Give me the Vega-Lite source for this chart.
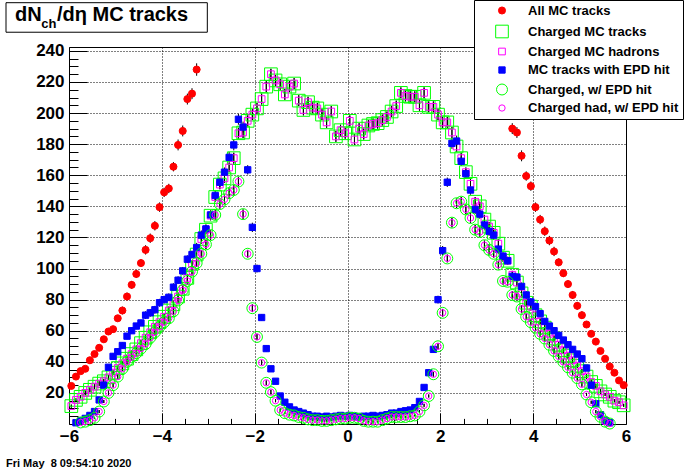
{
"$schema": "https://vega.github.io/schema/vega-lite/v6.json",
"width": 557, "height": 377,
"autosize": {"type": "none"},
"padding": {"left": 69, "top": 47, "right": 70, "bottom": 48},
"background": "white",
"config": {"view": {"stroke": "black", "strokeWidth": 1}, "font": "Liberation Sans",
  "legend": {"title": null, "orient": "none", "legendX": 405, "legendY": -47, "fillColor": "white", "strokeColor": "black", "padding": 4, "labelFont": "Liberation Sans", "labelFontWeight": "bold", "labelFontSize": 13, "labelColor": "black", "labelOffset": 19, "symbolOffset": 17, "rowPadding": 4.5, "labelLimit": 300, "cornerRadius": 0, "symbolStrokeWidth": 1}},
"data": {"values": [
{"s":"a","x":-5.95,"y":24.5,"e":1.5},{"s":"a","x":-5.85,"y":30.5,"e":1.5},{"s":"a","x":-5.75,"y":34,"e":1.5},{"s":"a","x":-5.65,"y":35.5,"e":1.5},{"s":"a","x":-5.55,"y":41,"e":2},{"s":"a","x":-5.45,"y":45,"e":2},{"s":"a","x":-5.35,"y":49,"e":2},{"s":"a","x":-5.25,"y":54.5,"e":2},{"s":"a","x":-5.15,"y":59.5,"e":2},{"s":"a","x":-5.05,"y":61,"e":2},
{"s":"a","x":-4.95,"y":68,"e":2},{"s":"a","x":-4.85,"y":73,"e":2.5},{"s":"a","x":-4.75,"y":82,"e":2.5},{"s":"a","x":-4.65,"y":89.5,"e":2.5},{"s":"a","x":-4.55,"y":96.5,"e":2.5},{"s":"a","x":-4.45,"y":103.5,"e":2.5},{"s":"a","x":-4.35,"y":112,"e":3},{"s":"a","x":-4.25,"y":119.5,"e":3},{"s":"a","x":-4.15,"y":127.5,"e":3},{"s":"a","x":-4.05,"y":139.5,"e":3},
{"s":"a","x":-3.95,"y":149,"e":3},{"s":"a","x":-3.85,"y":151.5,"e":3},{"s":"a","x":-3.75,"y":165.5,"e":3},{"s":"a","x":-3.65,"y":179.5,"e":3.5},{"s":"a","x":-3.55,"y":188.5,"e":3.5},{"s":"a","x":-3.45,"y":209,"e":3.5},{"s":"a","x":-3.35,"y":212.5,"e":3.5},{"s":"a","x":-3.25,"y":228,"e":4},
{"s":"a","x":3.55,"y":190,"e":3.5},{"s":"a","x":3.65,"y":187.5,"e":3.5},{"s":"a","x":3.75,"y":172.5,"e":3.5},{"s":"a","x":3.85,"y":159.5,"e":3},{"s":"a","x":3.95,"y":153,"e":3},{"s":"a","x":4.05,"y":139.5,"e":3},{"s":"a","x":4.15,"y":131.5,"e":3},{"s":"a","x":4.25,"y":124,"e":3},{"s":"a","x":4.35,"y":118,"e":3},{"s":"a","x":4.45,"y":111,"e":3},
{"s":"a","x":4.55,"y":104,"e":2.5},{"s":"a","x":4.65,"y":97,"e":2.5},{"s":"a","x":4.75,"y":90,"e":2.5},{"s":"a","x":4.85,"y":83,"e":2.5},{"s":"a","x":4.95,"y":76,"e":2.5},{"s":"a","x":5.05,"y":70,"e":2.5},{"s":"a","x":5.15,"y":64,"e":2},{"s":"a","x":5.25,"y":58,"e":2},{"s":"a","x":5.35,"y":53,"e":2},{"s":"a","x":5.45,"y":47,"e":2},
{"s":"a","x":5.55,"y":42,"e":2},{"s":"a","x":5.65,"y":37,"e":1.5},{"s":"a","x":5.75,"y":33,"e":1.5},{"s":"a","x":5.85,"y":28,"e":1.5},{"s":"a","x":5.95,"y":25,"e":1.5},

{"s":"b","x":-5.95,"y":11.5,"e":1},{"s":"b","x":-5.85,"y":15.5,"e":1},{"s":"b","x":-5.75,"y":17.5,"e":1},{"s":"b","x":-5.65,"y":20,"e":1.5},{"s":"b","x":-5.55,"y":22,"e":1.5},{"s":"b","x":-5.45,"y":24,"e":1.5},{"s":"b","x":-5.35,"y":26,"e":1.5},{"s":"b","x":-5.25,"y":27.5,"e":1.5},{"s":"b","x":-5.15,"y":30,"e":1.5},{"s":"b","x":-5.05,"y":33,"e":1.5},
{"s":"b","x":-4.95,"y":36,"e":1.5},{"s":"b","x":-4.85,"y":39,"e":1.5},{"s":"b","x":-4.75,"y":42,"e":2},{"s":"b","x":-4.65,"y":45,"e":2},{"s":"b","x":-4.55,"y":48,"e":2},{"s":"b","x":-4.45,"y":52,"e":2},{"s":"b","x":-4.35,"y":55.5,"e":2},{"s":"b","x":-4.25,"y":59,"e":2},{"s":"b","x":-4.15,"y":62.5,"e":2},{"s":"b","x":-4.05,"y":65.5,"e":2},
{"s":"b","x":-3.95,"y":69,"e":2},{"s":"b","x":-3.85,"y":73,"e":2.5},{"s":"b","x":-3.75,"y":77,"e":2.5},{"s":"b","x":-3.65,"y":82,"e":2.5},{"s":"b","x":-3.55,"y":87,"e":2.5},{"s":"b","x":-3.45,"y":94,"e":2.5},{"s":"b","x":-3.35,"y":103,"e":2.5},{"s":"b","x":-3.25,"y":109,"e":2.5},{"s":"b","x":-3.15,"y":119,"e":3},{"s":"b","x":-3.05,"y":125,"e":3},
{"s":"b","x":-2.95,"y":134,"e":3},{"s":"b","x":-2.85,"y":146,"e":3},{"s":"b","x":-2.75,"y":154,"e":3},{"s":"b","x":-2.65,"y":158,"e":3},{"s":"b","x":-2.55,"y":165,"e":3},{"s":"b","x":-2.45,"y":171,"e":3.5},{"s":"b","x":-2.35,"y":187,"e":3.5},{"s":"b","x":-2.25,"y":187.5,"e":3.5},{"s":"b","x":-2.15,"y":195,"e":3.5},{"s":"b","x":-2.05,"y":199,"e":3.5},
{"s":"b","x":-1.95,"y":203,"e":3.5},{"s":"b","x":-1.85,"y":209,"e":3.5},{"s":"b","x":-1.75,"y":217,"e":3.5},{"s":"b","x":-1.65,"y":225,"e":3.5},{"s":"b","x":-1.55,"y":221,"e":3.5},{"s":"b","x":-1.45,"y":218.5,"e":3.5},{"s":"b","x":-1.35,"y":212,"e":3.5},{"s":"b","x":-1.25,"y":217,"e":3.5},{"s":"b","x":-1.15,"y":219,"e":3.5},{"s":"b","x":-1.05,"y":208,"e":3.5},
{"s":"b","x":-0.95,"y":202,"e":3.5},{"s":"b","x":-0.85,"y":207,"e":3.5},{"s":"b","x":-0.75,"y":203.5,"e":3.5},{"s":"b","x":-0.65,"y":203,"e":3.5},{"s":"b","x":-0.55,"y":199,"e":3.5},{"s":"b","x":-0.45,"y":194,"e":3.5},{"s":"b","x":-0.35,"y":201,"e":3.5},{"s":"b","x":-0.25,"y":185,"e":3.5},{"s":"b","x":-0.15,"y":189,"e":3.5},{"s":"b","x":-0.05,"y":187,"e":3.5},
{"s":"b","x":0.05,"y":195,"e":3.5},{"s":"b","x":0.15,"y":183,"e":3.5},{"s":"b","x":0.25,"y":190,"e":3.5},{"s":"b","x":0.35,"y":186.5,"e":3.5},{"s":"b","x":0.45,"y":192,"e":3.5},{"s":"b","x":0.55,"y":193,"e":3.5},{"s":"b","x":0.65,"y":193.5,"e":3.5},{"s":"b","x":0.75,"y":195.5,"e":3.5},{"s":"b","x":0.85,"y":197.5,"e":3.5},{"s":"b","x":0.95,"y":201,"e":3.5},
{"s":"b","x":1.05,"y":204.5,"e":3.5},{"s":"b","x":1.15,"y":213,"e":3.5},{"s":"b","x":1.25,"y":211,"e":3.5},{"s":"b","x":1.35,"y":210.5,"e":3.5},{"s":"b","x":1.45,"y":210.5,"e":3.5},{"s":"b","x":1.55,"y":205,"e":3.5},{"s":"b","x":1.65,"y":213,"e":3.5},{"s":"b","x":1.75,"y":204,"e":3.5},{"s":"b","x":1.85,"y":204,"e":3.5},{"s":"b","x":1.95,"y":199,"e":3.5},
{"s":"b","x":2.05,"y":194,"e":3.5},{"s":"b","x":2.15,"y":194,"e":3.5},{"s":"b","x":2.25,"y":187.5,"e":3.5},{"s":"b","x":2.35,"y":178.5,"e":3.5},{"s":"b","x":2.45,"y":171,"e":3.5},{"s":"b","x":2.55,"y":162,"e":3},{"s":"b","x":2.65,"y":154.5,"e":3},{"s":"b","x":2.75,"y":143,"e":3},{"s":"b","x":2.85,"y":140,"e":3},{"s":"b","x":2.95,"y":131.5,"e":3},
{"s":"b","x":3.05,"y":127,"e":3},{"s":"b","x":3.15,"y":123,"e":3},{"s":"b","x":3.25,"y":116,"e":3},{"s":"b","x":3.35,"y":107,"e":2.5},{"s":"b","x":3.45,"y":105,"e":2.5},{"s":"b","x":3.55,"y":96,"e":2.5},{"s":"b","x":3.65,"y":91,"e":2.5},{"s":"b","x":3.75,"y":84,"e":2.5},{"s":"b","x":3.85,"y":78,"e":2.5},{"s":"b","x":3.95,"y":75.5,"e":2.5},
{"s":"b","x":4.05,"y":70,"e":2.5},{"s":"b","x":4.15,"y":66,"e":2},{"s":"b","x":4.25,"y":62,"e":2},{"s":"b","x":4.35,"y":58,"e":2},{"s":"b","x":4.45,"y":55,"e":2},{"s":"b","x":4.55,"y":51,"e":2},{"s":"b","x":4.65,"y":47.5,"e":2},{"s":"b","x":4.75,"y":44,"e":2},{"s":"b","x":4.85,"y":41,"e":2},{"s":"b","x":4.95,"y":37.5,"e":1.5},
{"s":"b","x":5.05,"y":34,"e":1.5},{"s":"b","x":5.15,"y":30.5,"e":1.5},{"s":"b","x":5.25,"y":27,"e":1.5},{"s":"b","x":5.35,"y":24.5,"e":1.5},{"s":"b","x":5.45,"y":21,"e":1.5},{"s":"b","x":5.55,"y":19,"e":1},{"s":"b","x":5.65,"y":17.5,"e":1},{"s":"b","x":5.75,"y":15,"e":1},{"s":"b","x":5.85,"y":14,"e":1},{"s":"b","x":5.95,"y":12,"e":1},

{"s":"c","x":-5.95,"y":11.5,"e":1},{"s":"c","x":-5.85,"y":15.5,"e":1},{"s":"c","x":-5.75,"y":17.5,"e":1},{"s":"c","x":-5.65,"y":20,"e":1.5},{"s":"c","x":-5.55,"y":22,"e":1.5},{"s":"c","x":-5.45,"y":24,"e":1.5},{"s":"c","x":-5.35,"y":26,"e":1.5},{"s":"c","x":-5.25,"y":27.5,"e":1.5},{"s":"c","x":-5.15,"y":30,"e":1.5},{"s":"c","x":-5.05,"y":33,"e":1.5},
{"s":"c","x":-4.95,"y":36,"e":1.5},{"s":"c","x":-4.85,"y":39,"e":1.5},{"s":"c","x":-4.75,"y":42,"e":2},{"s":"c","x":-4.65,"y":45,"e":2},{"s":"c","x":-4.55,"y":48,"e":2},{"s":"c","x":-4.45,"y":52,"e":2},{"s":"c","x":-4.35,"y":55.5,"e":2},{"s":"c","x":-4.25,"y":59,"e":2},{"s":"c","x":-4.15,"y":62.5,"e":2},{"s":"c","x":-4.05,"y":65.5,"e":2},
{"s":"c","x":-3.95,"y":69,"e":2},{"s":"c","x":-3.85,"y":73,"e":2.5},{"s":"c","x":-3.75,"y":77,"e":2.5},{"s":"c","x":-3.65,"y":82,"e":2.5},{"s":"c","x":-3.55,"y":87,"e":2.5},{"s":"c","x":-3.45,"y":94,"e":2.5},{"s":"c","x":-3.35,"y":103,"e":2.5},{"s":"c","x":-3.25,"y":109,"e":2.5},{"s":"c","x":-3.15,"y":119,"e":3},{"s":"c","x":-3.05,"y":125,"e":3},
{"s":"c","x":-2.95,"y":134,"e":3},{"s":"c","x":-2.85,"y":146,"e":3},{"s":"c","x":-2.75,"y":154,"e":3},{"s":"c","x":-2.65,"y":158,"e":3},{"s":"c","x":-2.55,"y":165,"e":3},{"s":"c","x":-2.45,"y":171,"e":3.5},{"s":"c","x":-2.35,"y":187,"e":3.5},{"s":"c","x":-2.25,"y":187.5,"e":3.5},{"s":"c","x":-2.15,"y":195,"e":3.5},{"s":"c","x":-2.05,"y":199,"e":3.5},
{"s":"c","x":-1.95,"y":203,"e":3.5},{"s":"c","x":-1.85,"y":209,"e":3.5},{"s":"c","x":-1.75,"y":217,"e":3.5},{"s":"c","x":-1.65,"y":225,"e":3.5},{"s":"c","x":-1.55,"y":221,"e":3.5},{"s":"c","x":-1.45,"y":218.5,"e":3.5},{"s":"c","x":-1.35,"y":212,"e":3.5},{"s":"c","x":-1.25,"y":217,"e":3.5},{"s":"c","x":-1.15,"y":219,"e":3.5},{"s":"c","x":-1.05,"y":208,"e":3.5},
{"s":"c","x":-0.95,"y":202,"e":3.5},{"s":"c","x":-0.85,"y":207,"e":3.5},{"s":"c","x":-0.75,"y":203.5,"e":3.5},{"s":"c","x":-0.65,"y":203,"e":3.5},{"s":"c","x":-0.55,"y":199,"e":3.5},{"s":"c","x":-0.45,"y":194,"e":3.5},{"s":"c","x":-0.35,"y":201,"e":3.5},{"s":"c","x":-0.25,"y":185,"e":3.5},{"s":"c","x":-0.15,"y":189,"e":3.5},{"s":"c","x":-0.05,"y":187,"e":3.5},
{"s":"c","x":0.05,"y":195,"e":3.5},{"s":"c","x":0.15,"y":183,"e":3.5},{"s":"c","x":0.25,"y":190,"e":3.5},{"s":"c","x":0.35,"y":186.5,"e":3.5},{"s":"c","x":0.45,"y":192,"e":3.5},{"s":"c","x":0.55,"y":193,"e":3.5},{"s":"c","x":0.65,"y":193.5,"e":3.5},{"s":"c","x":0.75,"y":195.5,"e":3.5},{"s":"c","x":0.85,"y":197.5,"e":3.5},{"s":"c","x":0.95,"y":201,"e":3.5},
{"s":"c","x":1.05,"y":204.5,"e":3.5},{"s":"c","x":1.15,"y":213,"e":3.5},{"s":"c","x":1.25,"y":211,"e":3.5},{"s":"c","x":1.35,"y":210.5,"e":3.5},{"s":"c","x":1.45,"y":210.5,"e":3.5},{"s":"c","x":1.55,"y":205,"e":3.5},{"s":"c","x":1.65,"y":213,"e":3.5},{"s":"c","x":1.75,"y":204,"e":3.5},{"s":"c","x":1.85,"y":204,"e":3.5},{"s":"c","x":1.95,"y":199,"e":3.5},
{"s":"c","x":2.05,"y":194,"e":3.5},{"s":"c","x":2.15,"y":194,"e":3.5},{"s":"c","x":2.25,"y":187.5,"e":3.5},{"s":"c","x":2.35,"y":178.5,"e":3.5},{"s":"c","x":2.45,"y":171,"e":3.5},{"s":"c","x":2.55,"y":162,"e":3},{"s":"c","x":2.65,"y":154.5,"e":3},{"s":"c","x":2.75,"y":143,"e":3},{"s":"c","x":2.85,"y":140,"e":3},{"s":"c","x":2.95,"y":131.5,"e":3},
{"s":"c","x":3.05,"y":127,"e":3},{"s":"c","x":3.15,"y":123,"e":3},{"s":"c","x":3.25,"y":116,"e":3},{"s":"c","x":3.35,"y":107,"e":2.5},{"s":"c","x":3.45,"y":105,"e":2.5},{"s":"c","x":3.55,"y":96,"e":2.5},{"s":"c","x":3.65,"y":91,"e":2.5},{"s":"c","x":3.75,"y":84,"e":2.5},{"s":"c","x":3.85,"y":78,"e":2.5},{"s":"c","x":3.95,"y":75.5,"e":2.5},
{"s":"c","x":4.05,"y":70,"e":2.5},{"s":"c","x":4.15,"y":66,"e":2},{"s":"c","x":4.25,"y":62,"e":2},{"s":"c","x":4.35,"y":58,"e":2},{"s":"c","x":4.45,"y":55,"e":2},{"s":"c","x":4.55,"y":51,"e":2},{"s":"c","x":4.65,"y":47.5,"e":2},{"s":"c","x":4.75,"y":44,"e":2},{"s":"c","x":4.85,"y":41,"e":2},{"s":"c","x":4.95,"y":37.5,"e":1.5},
{"s":"c","x":5.05,"y":34,"e":1.5},{"s":"c","x":5.15,"y":30.5,"e":1.5},{"s":"c","x":5.25,"y":27,"e":1.5},{"s":"c","x":5.35,"y":24.5,"e":1.5},{"s":"c","x":5.45,"y":21,"e":1.5},{"s":"c","x":5.55,"y":19,"e":1},{"s":"c","x":5.65,"y":17.5,"e":1},{"s":"c","x":5.75,"y":15,"e":1},{"s":"c","x":5.85,"y":14,"e":1},{"s":"c","x":5.95,"y":12,"e":1},

{"s":"d","x":-5.85,"y":0.8,"e":0.6},{"s":"d","x":-5.75,"y":2,"e":0.6},{"s":"d","x":-5.65,"y":3.6,"e":0.6},{"s":"d","x":-5.55,"y":5.5,"e":0.6},{"s":"d","x":-5.45,"y":8,"e":1},{"s":"d","x":-5.35,"y":15.5,"e":1},{"s":"d","x":-5.25,"y":25,"e":1.5},{"s":"d","x":-5.15,"y":36.5,"e":1.5},{"s":"d","x":-5.05,"y":43.5,"e":2},
{"s":"d","x":-4.95,"y":46.5,"e":2},{"s":"d","x":-4.85,"y":50.5,"e":2},{"s":"d","x":-4.75,"y":56.5,"e":2},{"s":"d","x":-4.65,"y":60,"e":2},{"s":"d","x":-4.55,"y":63,"e":2},{"s":"d","x":-4.45,"y":65,"e":2},{"s":"d","x":-4.35,"y":70,"e":2.5},{"s":"d","x":-4.25,"y":71.5,"e":2.5},{"s":"d","x":-4.15,"y":73.5,"e":2.5},{"s":"d","x":-4.05,"y":78,"e":2.5},
{"s":"d","x":-3.95,"y":80,"e":2.5},{"s":"d","x":-3.85,"y":81.5,"e":2.5},{"s":"d","x":-3.75,"y":88,"e":2.5},{"s":"d","x":-3.65,"y":92.5,"e":2.5},{"s":"d","x":-3.55,"y":98.5,"e":2.5},{"s":"d","x":-3.45,"y":106,"e":2.5},{"s":"d","x":-3.35,"y":109,"e":2.5},{"s":"d","x":-3.25,"y":113.5,"e":3},{"s":"d","x":-3.15,"y":121.5,"e":3},{"s":"d","x":-3.05,"y":125.5,"e":3},
{"s":"d","x":-2.95,"y":134.5,"e":3},{"s":"d","x":-2.85,"y":147,"e":3},{"s":"d","x":-2.75,"y":155.5,"e":3},{"s":"d","x":-2.65,"y":162,"e":3},{"s":"d","x":-2.55,"y":171.5,"e":3.5},{"s":"d","x":-2.45,"y":179.5,"e":3.5},{"s":"d","x":-2.35,"y":196,"e":3.5},{"s":"d","x":-2.25,"y":191,"e":3.5},{"s":"d","x":-2.15,"y":163.5,"e":3},{"s":"d","x":-2.05,"y":126.5,"e":3},
{"s":"d","x":-1.95,"y":100,"e":2.5},{"s":"d","x":-1.85,"y":68.5,"e":2},{"s":"d","x":-1.75,"y":48.5,"e":2},{"s":"d","x":-1.65,"y":35.5,"e":1.5},{"s":"d","x":-1.55,"y":27.5,"e":1.5},{"s":"d","x":-1.45,"y":18,"e":1},{"s":"d","x":-1.35,"y":14,"e":1},{"s":"d","x":-1.25,"y":11,"e":1},{"s":"d","x":-1.15,"y":9,"e":1},{"s":"d","x":-1.05,"y":8,"e":1},
{"s":"d","x":-0.95,"y":7,"e":0.6},{"s":"d","x":-0.85,"y":6,"e":0.6},{"s":"d","x":-0.75,"y":5,"e":0.6},{"s":"d","x":-0.65,"y":5,"e":0.6},{"s":"d","x":-0.55,"y":4.5,"e":0.6},{"s":"d","x":-0.45,"y":5,"e":0.6},{"s":"d","x":-0.35,"y":4.5,"e":0.6},{"s":"d","x":-0.25,"y":5,"e":0.6},{"s":"d","x":-0.15,"y":5.5,"e":0.6},{"s":"d","x":-0.05,"y":5,"e":0.6},
{"s":"d","x":0.05,"y":5.5,"e":0.6},{"s":"d","x":0.15,"y":5,"e":0.6},{"s":"d","x":0.25,"y":4.5,"e":0.6},{"s":"d","x":0.35,"y":5,"e":0.6},{"s":"d","x":0.45,"y":5,"e":0.6},{"s":"d","x":0.55,"y":5.5,"e":0.6},{"s":"d","x":0.65,"y":5,"e":0.6},{"s":"d","x":0.75,"y":5.5,"e":0.6},{"s":"d","x":0.85,"y":6,"e":0.6},{"s":"d","x":0.95,"y":7,"e":0.6},
{"s":"d","x":1.05,"y":7,"e":0.6},{"s":"d","x":1.15,"y":8,"e":1},{"s":"d","x":1.25,"y":8.5,"e":1},{"s":"d","x":1.35,"y":9,"e":1},{"s":"d","x":1.45,"y":10.5,"e":1},{"s":"d","x":1.55,"y":14.5,"e":1},{"s":"d","x":1.65,"y":23.5,"e":1.5},{"s":"d","x":1.75,"y":33,"e":1.5},{"s":"d","x":1.85,"y":48,"e":2},{"s":"d","x":1.95,"y":80,"e":2.5},
{"s":"d","x":2.05,"y":111.5,"e":3},{"s":"d","x":2.15,"y":155.5,"e":3},{"s":"d","x":2.25,"y":180.5,"e":3.5},{"s":"d","x":2.35,"y":182,"e":3.5},{"s":"d","x":2.45,"y":169,"e":3},{"s":"d","x":2.55,"y":161,"e":3},{"s":"d","x":2.65,"y":150.5,"e":3},{"s":"d","x":2.75,"y":138,"e":3},{"s":"d","x":2.85,"y":135,"e":3},{"s":"d","x":2.95,"y":128,"e":3},
{"s":"d","x":3.05,"y":124,"e":3},{"s":"d","x":3.15,"y":121.5,"e":3},{"s":"d","x":3.25,"y":112.5,"e":3},{"s":"d","x":3.35,"y":108,"e":2.5},{"s":"d","x":3.45,"y":105,"e":2.5},{"s":"d","x":3.55,"y":95,"e":2.5},{"s":"d","x":3.65,"y":94.5,"e":2.5},{"s":"d","x":3.75,"y":88.5,"e":2.5},{"s":"d","x":3.85,"y":83,"e":2.5},{"s":"d","x":3.95,"y":78.5,"e":2.5},
{"s":"d","x":4.05,"y":75.5,"e":2.5},{"s":"d","x":4.15,"y":71,"e":2.5},{"s":"d","x":4.25,"y":66,"e":2},{"s":"d","x":4.35,"y":63,"e":2},{"s":"d","x":4.45,"y":60,"e":2},{"s":"d","x":4.55,"y":57,"e":2},{"s":"d","x":4.65,"y":54,"e":2},{"s":"d","x":4.75,"y":51,"e":2},{"s":"d","x":4.85,"y":48,"e":2},{"s":"d","x":4.95,"y":45,"e":2},
{"s":"d","x":5.05,"y":42,"e":2},{"s":"d","x":5.15,"y":36,"e":1.5},{"s":"d","x":5.25,"y":25,"e":1.5},{"s":"d","x":5.35,"y":13,"e":1},{"s":"d","x":5.45,"y":6,"e":0.6},{"s":"d","x":5.55,"y":2,"e":0.6},{"s":"d","x":5.65,"y":0.8,"e":0.6},

{"s":"e","x":-5.75,"y":1,"e":0.6},{"s":"e","x":-5.65,"y":1.5,"e":0.6},{"s":"e","x":-5.55,"y":2.5,"e":0.6},{"s":"e","x":-5.45,"y":4,"e":0.6},{"s":"e","x":-5.35,"y":8,"e":1},{"s":"e","x":-5.25,"y":14.5,"e":1},{"s":"e","x":-5.15,"y":20,"e":1.5},{"s":"e","x":-5.05,"y":25,"e":1.5},
{"s":"e","x":-4.95,"y":30.5,"e":1.5},{"s":"e","x":-4.85,"y":35.5,"e":1.5},{"s":"e","x":-4.75,"y":40,"e":2},{"s":"e","x":-4.65,"y":43,"e":2},{"s":"e","x":-4.55,"y":45.5,"e":2},{"s":"e","x":-4.45,"y":48.5,"e":2},{"s":"e","x":-4.35,"y":51.5,"e":2},{"s":"e","x":-4.25,"y":55.5,"e":2},{"s":"e","x":-4.15,"y":59,"e":2},{"s":"e","x":-4.05,"y":62.5,"e":2},
{"s":"e","x":-3.95,"y":65.5,"e":2},{"s":"e","x":-3.85,"y":68,"e":2},{"s":"e","x":-3.75,"y":72.5,"e":2.5},{"s":"e","x":-3.65,"y":79.5,"e":2.5},{"s":"e","x":-3.55,"y":86,"e":2.5},{"s":"e","x":-3.45,"y":92,"e":2.5},{"s":"e","x":-3.35,"y":98,"e":2.5},{"s":"e","x":-3.25,"y":103.5,"e":2.5},{"s":"e","x":-3.15,"y":109.5,"e":2.5},{"s":"e","x":-3.05,"y":115.5,"e":3},
{"s":"e","x":-2.95,"y":121.5,"e":3},{"s":"e","x":-2.85,"y":134.5,"e":3},{"s":"e","x":-2.75,"y":141.5,"e":3},{"s":"e","x":-2.65,"y":144.5,"e":3},{"s":"e","x":-2.55,"y":148.5,"e":3},{"s":"e","x":-2.45,"y":150.5,"e":3},{"s":"e","x":-2.35,"y":156,"e":3},{"s":"e","x":-2.25,"y":135,"e":3},{"s":"e","x":-2.15,"y":109.5,"e":2.5},{"s":"e","x":-2.05,"y":74.5,"e":2.5},
{"s":"e","x":-1.95,"y":56,"e":2},{"s":"e","x":-1.85,"y":39.5,"e":1.5},{"s":"e","x":-1.75,"y":26.5,"e":1.5},{"s":"e","x":-1.65,"y":20.5,"e":1.5},{"s":"e","x":-1.55,"y":15,"e":1},{"s":"e","x":-1.45,"y":9,"e":1},{"s":"e","x":-1.35,"y":7,"e":0.6},{"s":"e","x":-1.25,"y":6,"e":0.6},{"s":"e","x":-1.15,"y":5.5,"e":0.6},{"s":"e","x":-1.05,"y":4.5,"e":0.6},
{"s":"e","x":-0.95,"y":4,"e":0.6},{"s":"e","x":-0.85,"y":3,"e":0.6},{"s":"e","x":-0.75,"y":2.5,"e":0.6},{"s":"e","x":-0.65,"y":2.5,"e":0.6},{"s":"e","x":-0.55,"y":2,"e":0.6},{"s":"e","x":-0.45,"y":2,"e":0.6},{"s":"e","x":-0.35,"y":2.5,"e":0.6},{"s":"e","x":-0.25,"y":3,"e":0.6},{"s":"e","x":-0.15,"y":3.5,"e":0.6},{"s":"e","x":-0.05,"y":3.5,"e":0.6},
{"s":"e","x":0.05,"y":4,"e":0.6},{"s":"e","x":0.15,"y":4,"e":0.6},{"s":"e","x":0.25,"y":3.5,"e":0.6},{"s":"e","x":0.35,"y":2,"e":0.6},{"s":"e","x":0.45,"y":1.5,"e":0.6},{"s":"e","x":0.55,"y":1.5,"e":0.6},{"s":"e","x":0.65,"y":1.5,"e":0.6},{"s":"e","x":0.75,"y":2.5,"e":0.6},{"s":"e","x":0.85,"y":3.5,"e":0.6},{"s":"e","x":0.95,"y":4.5,"e":0.6},
{"s":"e","x":1.05,"y":4.5,"e":0.6},{"s":"e","x":1.15,"y":4.5,"e":0.6},{"s":"e","x":1.25,"y":4.5,"e":0.6},{"s":"e","x":1.35,"y":5,"e":0.6},{"s":"e","x":1.45,"y":5.5,"e":0.6},{"s":"e","x":1.55,"y":8,"e":1},{"s":"e","x":1.65,"y":12,"e":1},{"s":"e","x":1.75,"y":18,"e":1},{"s":"e","x":1.85,"y":32,"e":1.5},{"s":"e","x":1.95,"y":50,"e":2},
{"s":"e","x":2.05,"y":71.5,"e":2.5},{"s":"e","x":2.15,"y":106.5,"e":2.5},{"s":"e","x":2.25,"y":129.5,"e":3},{"s":"e","x":2.35,"y":142,"e":3},{"s":"e","x":2.45,"y":143,"e":3},{"s":"e","x":2.55,"y":138,"e":3},{"s":"e","x":2.65,"y":132.5,"e":3},{"s":"e","x":2.75,"y":125,"e":3},{"s":"e","x":2.85,"y":123.5,"e":3},{"s":"e","x":2.95,"y":115,"e":3},
{"s":"e","x":3.05,"y":112,"e":3},{"s":"e","x":3.15,"y":109.5,"e":2.5},{"s":"e","x":3.25,"y":102.5,"e":2.5},{"s":"e","x":3.35,"y":92,"e":2.5},{"s":"e","x":3.45,"y":91.5,"e":2.5},{"s":"e","x":3.55,"y":83,"e":2.5},{"s":"e","x":3.65,"y":82,"e":2.5},{"s":"e","x":3.75,"y":74,"e":2.5},{"s":"e","x":3.85,"y":69,"e":2},{"s":"e","x":3.95,"y":65.5,"e":2},
{"s":"e","x":4.05,"y":62,"e":2},{"s":"e","x":4.15,"y":58,"e":2},{"s":"e","x":4.25,"y":55,"e":2},{"s":"e","x":4.35,"y":51,"e":2},{"s":"e","x":4.45,"y":47,"e":2},{"s":"e","x":4.55,"y":43.5,"e":2},{"s":"e","x":4.65,"y":40,"e":2},{"s":"e","x":4.75,"y":36.5,"e":1.5},{"s":"e","x":4.85,"y":33,"e":1.5},{"s":"e","x":4.95,"y":29.5,"e":1.5},
{"s":"e","x":5.05,"y":25.5,"e":1.5},{"s":"e","x":5.15,"y":19,"e":1},{"s":"e","x":5.25,"y":14,"e":1},{"s":"e","x":5.35,"y":8,"e":1},{"s":"e","x":5.45,"y":4.7,"e":0.6},{"s":"e","x":5.55,"y":1.5,"e":0.6},{"s":"e","x":5.65,"y":0.3,"e":0.6},

{"s":"f","x":-5.75,"y":1,"e":0.6},{"s":"f","x":-5.65,"y":1.5,"e":0.6},{"s":"f","x":-5.55,"y":2.5,"e":0.6},{"s":"f","x":-5.45,"y":4,"e":0.6},{"s":"f","x":-5.35,"y":8,"e":1},{"s":"f","x":-5.25,"y":14.5,"e":1},{"s":"f","x":-5.15,"y":20,"e":1.5},{"s":"f","x":-5.05,"y":25,"e":1.5},
{"s":"f","x":-4.95,"y":30.5,"e":1.5},{"s":"f","x":-4.85,"y":35.5,"e":1.5},{"s":"f","x":-4.75,"y":40,"e":2},{"s":"f","x":-4.65,"y":43,"e":2},{"s":"f","x":-4.55,"y":45.5,"e":2},{"s":"f","x":-4.45,"y":48.5,"e":2},{"s":"f","x":-4.35,"y":51.5,"e":2},{"s":"f","x":-4.25,"y":55.5,"e":2},{"s":"f","x":-4.15,"y":59,"e":2},{"s":"f","x":-4.05,"y":62.5,"e":2},
{"s":"f","x":-3.95,"y":65.5,"e":2},{"s":"f","x":-3.85,"y":68,"e":2},{"s":"f","x":-3.75,"y":72.5,"e":2.5},{"s":"f","x":-3.65,"y":79.5,"e":2.5},{"s":"f","x":-3.55,"y":86,"e":2.5},{"s":"f","x":-3.45,"y":92,"e":2.5},{"s":"f","x":-3.35,"y":98,"e":2.5},{"s":"f","x":-3.25,"y":103.5,"e":2.5},{"s":"f","x":-3.15,"y":109.5,"e":2.5},{"s":"f","x":-3.05,"y":115.5,"e":3},
{"s":"f","x":-2.95,"y":121.5,"e":3},{"s":"f","x":-2.85,"y":134.5,"e":3},{"s":"f","x":-2.75,"y":141.5,"e":3},{"s":"f","x":-2.65,"y":144.5,"e":3},{"s":"f","x":-2.55,"y":148.5,"e":3},{"s":"f","x":-2.45,"y":150.5,"e":3},{"s":"f","x":-2.35,"y":156,"e":3},{"s":"f","x":-2.25,"y":135,"e":3},{"s":"f","x":-2.15,"y":109.5,"e":2.5},{"s":"f","x":-2.05,"y":74.5,"e":2.5},
{"s":"f","x":-1.95,"y":56,"e":2},{"s":"f","x":-1.85,"y":39.5,"e":1.5},{"s":"f","x":-1.75,"y":26.5,"e":1.5},{"s":"f","x":-1.65,"y":20.5,"e":1.5},{"s":"f","x":-1.55,"y":15,"e":1},{"s":"f","x":-1.45,"y":9,"e":1},{"s":"f","x":-1.35,"y":7,"e":0.6},{"s":"f","x":-1.25,"y":6,"e":0.6},{"s":"f","x":-1.15,"y":5.5,"e":0.6},{"s":"f","x":-1.05,"y":4.5,"e":0.6},
{"s":"f","x":-0.95,"y":4,"e":0.6},{"s":"f","x":-0.85,"y":3,"e":0.6},{"s":"f","x":-0.75,"y":2.5,"e":0.6},{"s":"f","x":-0.65,"y":2.5,"e":0.6},{"s":"f","x":-0.55,"y":2,"e":0.6},{"s":"f","x":-0.45,"y":2,"e":0.6},{"s":"f","x":-0.35,"y":2.5,"e":0.6},{"s":"f","x":-0.25,"y":3,"e":0.6},{"s":"f","x":-0.15,"y":3.5,"e":0.6},{"s":"f","x":-0.05,"y":3.5,"e":0.6},
{"s":"f","x":0.05,"y":4,"e":0.6},{"s":"f","x":0.15,"y":4,"e":0.6},{"s":"f","x":0.25,"y":3.5,"e":0.6},{"s":"f","x":0.35,"y":2,"e":0.6},{"s":"f","x":0.45,"y":1.5,"e":0.6},{"s":"f","x":0.55,"y":1.5,"e":0.6},{"s":"f","x":0.65,"y":1.5,"e":0.6},{"s":"f","x":0.75,"y":2.5,"e":0.6},{"s":"f","x":0.85,"y":3.5,"e":0.6},{"s":"f","x":0.95,"y":4.5,"e":0.6},
{"s":"f","x":1.05,"y":4.5,"e":0.6},{"s":"f","x":1.15,"y":4.5,"e":0.6},{"s":"f","x":1.25,"y":4.5,"e":0.6},{"s":"f","x":1.35,"y":5,"e":0.6},{"s":"f","x":1.45,"y":5.5,"e":0.6},{"s":"f","x":1.55,"y":8,"e":1},{"s":"f","x":1.65,"y":12,"e":1},{"s":"f","x":1.75,"y":18,"e":1},{"s":"f","x":1.85,"y":32,"e":1.5},{"s":"f","x":1.95,"y":50,"e":2},
{"s":"f","x":2.05,"y":71.5,"e":2.5},{"s":"f","x":2.15,"y":106.5,"e":2.5},{"s":"f","x":2.25,"y":129.5,"e":3},{"s":"f","x":2.35,"y":142,"e":3},{"s":"f","x":2.45,"y":143,"e":3},{"s":"f","x":2.55,"y":138,"e":3},{"s":"f","x":2.65,"y":132.5,"e":3},{"s":"f","x":2.75,"y":125,"e":3},{"s":"f","x":2.85,"y":123.5,"e":3},{"s":"f","x":2.95,"y":115,"e":3},
{"s":"f","x":3.05,"y":112,"e":3},{"s":"f","x":3.15,"y":109.5,"e":2.5},{"s":"f","x":3.25,"y":102.5,"e":2.5},{"s":"f","x":3.35,"y":92,"e":2.5},{"s":"f","x":3.45,"y":91.5,"e":2.5},{"s":"f","x":3.55,"y":83,"e":2.5},{"s":"f","x":3.65,"y":82,"e":2.5},{"s":"f","x":3.75,"y":74,"e":2.5},{"s":"f","x":3.85,"y":69,"e":2},{"s":"f","x":3.95,"y":65.5,"e":2},
{"s":"f","x":4.05,"y":62,"e":2},{"s":"f","x":4.15,"y":58,"e":2},{"s":"f","x":4.25,"y":55,"e":2},{"s":"f","x":4.35,"y":51,"e":2},{"s":"f","x":4.45,"y":47,"e":2},{"s":"f","x":4.55,"y":43.5,"e":2},{"s":"f","x":4.65,"y":40,"e":2},{"s":"f","x":4.75,"y":36.5,"e":1.5},{"s":"f","x":4.85,"y":33,"e":1.5},{"s":"f","x":4.95,"y":29.5,"e":1.5},
{"s":"f","x":5.05,"y":25.5,"e":1.5},{"s":"f","x":5.15,"y":19,"e":1},{"s":"f","x":5.25,"y":14,"e":1},{"s":"f","x":5.35,"y":8,"e":1},{"s":"f","x":5.45,"y":4.7,"e":0.6},{"s":"f","x":5.55,"y":1.5,"e":0.6},{"s":"f","x":5.65,"y":0.3,"e":0.6}
]},
"layer": [
{"mark": {"type": "errorbar", "color": "black", "thickness": 1},
 "encoding": {
  "x": {"field": "x", "type": "quantitative", "scale": {"domain": [-6, 6], "nice": false, "zero": false},
        "axis": {"values": [-6, -4, -2, 0, 2, 4, 6], "title": null, "domain": false, "labelFont": "Liberation Sans", "labelFontWeight": "bold", "labelFontSize": 17, "labelColor": "black", "labelPadding": 15, "labelFlush": false, "labelOverlap": false, "tickSize": -11, "tickColor": "black", "tickWidth": 1, "grid": true, "gridColor": "black", "gridDash": [1, 2], "gridWidth": 1, "gridOpacity": 1}},
  "y": {"field": "y", "type": "quantitative", "scale": {"domain": [0, 242.5], "nice": false, "zero": false},
        "axis": {"values": [20, 40, 60, 80, 100, 120, 140, 160, 180, 200, 220, 240], "title": null, "domain": false, "labelFont": "Liberation Sans", "labelFontWeight": "bold", "labelFontSize": 17, "labelColor": "black", "labelPadding": 23, "labelFlush": false, "labelOverlap": false, "labelBaseline": "middle", "tickSize": -18, "tickColor": "black", "tickWidth": 1, "grid": true, "gridColor": "black", "gridDash": [1, 2], "gridWidth": 1, "gridOpacity": 1}},
  "yError": {"field": "e"}
 }},
{"mark": {"type": "point", "strokeWidth": 1, "opacity": 1},
 "encoding": {
  "x": {"field": "x", "type": "quantitative",
        "axis": {"values": [-5.5, -5, -4.5, -3.5, -3, -2.5, -1.5, -1, -0.5, 0.5, 1, 1.5, 2.5, 3, 3.5, 4.5, 5, 5.5], "orient": "bottom", "title": null, "labels": false, "domain": false, "grid": false, "tickSize": -5.6, "tickColor": "black", "tickWidth": 1}},
  "y": {"field": "y", "type": "quantitative",
        "axis": {"values": [5, 10, 15, 25, 30, 35, 45, 50, 55, 65, 70, 75, 85, 90, 95, 105, 110, 115, 125, 130, 135, 145, 150, 155, 165, 170, 175, 185, 190, 195, 205, 210, 215, 225, 230, 235], "orient": "left", "title": null, "labels": false, "domain": false, "grid": false, "tickSize": -9, "tickColor": "black", "tickWidth": 1}},
  "shape": {"field": "s", "type": "nominal", "scale": {"domain": ["a", "b", "c", "d", "e", "f"], "range": ["circle", "square", "square", "square", "circle", "circle"]},
            "legend": {"labelExpr": "datum.label === 'a' ? 'All MC tracks' : datum.label === 'b' ? 'Charged MC tracks' : datum.label === 'c' ? 'Charged MC hadrons' : datum.label === 'd' ? 'MC tracks with EPD hit' : datum.label === 'e' ? 'Charged, w/ EPD hit' : 'Charged had, w/ EPD hit'"}},
  "fill": {"field": "s", "type": "nominal", "scale": {"domain": ["a", "b", "c", "d", "e", "f"], "range": ["#ff0000", "transparent", "transparent", "#0000ff", "transparent", "transparent"]},
            "legend": {"labelExpr": "datum.label === 'a' ? 'All MC tracks' : datum.label === 'b' ? 'Charged MC tracks' : datum.label === 'c' ? 'Charged MC hadrons' : datum.label === 'd' ? 'MC tracks with EPD hit' : datum.label === 'e' ? 'Charged, w/ EPD hit' : 'Charged had, w/ EPD hit'"}},
  "stroke": {"field": "s", "type": "nominal", "scale": {"domain": ["a", "b", "c", "d", "e", "f"], "range": ["#ff0000", "#00ff00", "#ff00ff", "#0000ff", "#00ff00", "#ff00ff"]},
            "legend": {"labelExpr": "datum.label === 'a' ? 'All MC tracks' : datum.label === 'b' ? 'Charged MC tracks' : datum.label === 'c' ? 'Charged MC hadrons' : datum.label === 'd' ? 'MC tracks with EPD hit' : datum.label === 'e' ? 'Charged, w/ EPD hit' : 'Charged had, w/ EPD hit'"}},
  "size": {"field": "s", "type": "nominal", "scale": {"type": "ordinal", "domain": ["a", "b", "c", "d", "e", "f"], "range": [50, 160, 45, 40, 120, 40]},
            "legend": {"labelExpr": "datum.label === 'a' ? 'All MC tracks' : datum.label === 'b' ? 'Charged MC tracks' : datum.label === 'c' ? 'Charged MC hadrons' : datum.label === 'd' ? 'MC tracks with EPD hit' : datum.label === 'e' ? 'Charged, w/ EPD hit' : 'Charged had, w/ EPD hit'"}}
 }},
{"data": {"values": [{}]},
 "mark": {"type": "rect", "fill": "white", "stroke": "black", "strokeWidth": 1},
 "encoding": {"x": {"datum": -7.357, "type": "quantitative", "axis": null}, "x2": {"datum": -3.02}, "y": {"datum": 271, "type": "quantitative", "axis": null}, "y2": {"datum": 252}}},
{"data": {"values": [{}]},
 "mark": {"type": "text", "text": "dN", "align": "left", "baseline": "alphabetic", "font": "Liberation Sans", "fontWeight": "bold", "fontSize": 20, "fill": "black"},
 "encoding": {"x": {"datum": -7.163, "type": "quantitative", "axis": null}, "y": {"datum": 259.2, "type": "quantitative", "axis": null}}},
{"data": {"values": [{}]},
 "mark": {"type": "text", "text": "ch", "align": "left", "baseline": "alphabetic", "font": "Liberation Sans", "fontWeight": "bold", "fontSize": 13, "fill": "black"},
 "encoding": {"x": {"datum": -6.6, "type": "quantitative", "axis": null}, "y": {"datum": 254.7, "type": "quantitative", "axis": null}}},
{"data": {"values": [{}]},
 "mark": {"type": "text", "text": "/dη MC tracks", "align": "left", "baseline": "alphabetic", "font": "Liberation Sans", "fontWeight": "bold", "fontSize": 20, "fill": "black"},
 "encoding": {"x": {"datum": -6.259, "type": "quantitative", "axis": null}, "y": {"datum": 259.2, "type": "quantitative", "axis": null}}},
{"data": {"values": [{}]},
 "mark": {"type": "text", "text": "Fri May \u00a08 09:54:10 2020", "align": "left", "baseline": "alphabetic", "font": "Liberation Sans", "fontWeight": "bold", "fontSize": 11, "fill": "black"},
 "encoding": {"x": {"datum": -7.357, "type": "quantitative", "axis": null}, "y": {"datum": -27.66, "type": "quantitative", "axis": null}}}
],
"resolve": {"axis": {"x": "independent", "y": "independent"}}
}
